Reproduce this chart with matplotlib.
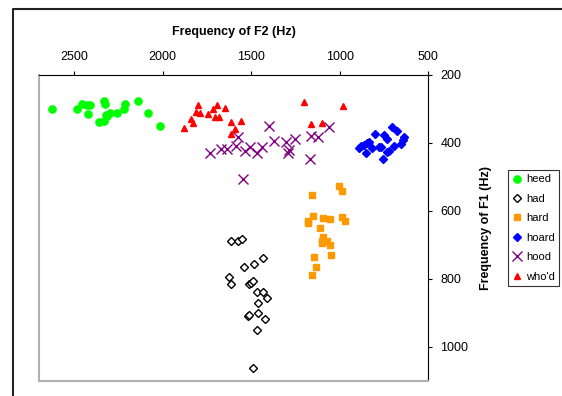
import matplotlib
matplotlib.use("Agg")
import matplotlib.pyplot as plt
from matplotlib.lines import Line2D

plt.rcParams["font.family"] = ["Liberation Sans", "DejaVu Sans"]

# vowel formants (Hz)
heed_f2 = [2625, 2486, 2455, 2429, 2414, 2422, 2335, 2324, 2363, 2335, 2320, 2301,
           2313, 2258, 2220, 2213, 2141, 2081, 2015]
heed_f1 = [300, 300, 285, 287, 289, 314, 277, 284, 338, 334, 317, 312,
           320, 311, 299, 286, 277, 312, 350]

had_f2 = [1616, 1572, 1551, 1433, 1538, 1486, 1625, 1616, 1514, 1501, 1489, 1467,
          1435, 1412, 1463, 1518, 1514, 1463, 1424, 1469, 1492]
had_f1 = [689, 687, 682, 737, 764, 757, 793, 814, 815, 811, 806, 837,
          838, 856, 870, 908, 906, 900, 918, 950, 1063]

hard_f2 = [1003, 986, 1156, 1153, 1177, 1179, 1096, 1053, 986, 968, 1113, 1096,
           1100, 1100, 1071, 1054, 1047, 1145, 1133, 1156]
hard_f1 = [526, 540, 552, 615, 628, 634, 622, 625, 617, 628, 649, 677,
           687, 695, 687, 700, 728, 736, 765, 788]

hoard_f2 = [704, 678, 798, 747, 732, 634, 644, 653, 695, 719, 734, 753,
            776, 768, 832, 845, 860, 879, 893, 819, 851]
hoard_f1 = [354, 365, 373, 376, 387, 381, 391, 403, 408, 425, 426, 447,
            413, 411, 396, 401, 406, 409, 414, 414, 430]

hood_f2 = [1733, 1670, 1637, 1585, 1576, 1533, 1505, 1468, 1438, 1400, 1372, 1304,
           1293, 1284, 1250, 1167, 1160, 1124, 1058, 1544]
hood_f1 = [430, 418, 418, 409, 382, 423, 411, 428, 413, 350, 394, 397,
           428, 422, 387, 448, 379, 381, 352, 506]

whod_f2 = [1798, 1811, 1787, 1840, 1831, 1881, 1742, 1718, 1693, 1706, 1680, 1646,
           1616, 1555, 1589, 1616, 1201, 979, 1164, 1102]
whod_f1 = [287, 309, 313, 328, 342, 355, 316, 301, 288, 324, 324, 298,
           338, 334, 359, 374, 280, 291, 345, 340]

W, H = 562, 396
fig = plt.figure(figsize=(W / 100, H / 100), dpi=100)
ax = fig.add_axes([39 / W, 1 - 381 / H, (428 - 39) / W, (381 - 75) / H])

ax.plot(heed_f2, heed_f1, "o", color="#00ff00", ms=5.2, mec="#00ff00", label="heed")
ax.plot(had_f2, had_f1, "D", mfc="white", mec="black", mew=1, ms=4, label="had")
ax.plot(hard_f2, hard_f1, "s", color="#ff9900", ms=4.5, label="hard")
ax.plot(hoard_f2, hoard_f1, "D", color="#0000ff", ms=4, label="hoard")
ax.plot(hood_f2, hood_f1, "x", color="#800080", ms=6.5, mew=1, label="hood")
ax.plot(whod_f2, whod_f1, "^", color="#ff0000", ms=5, label="who'd")

ax.set_xlim(2700, 500)
ax.set_ylim(1100, 200)
ax.set_xticks([2500, 2000, 1500, 1000, 500])
ax.set_yticks([200, 400, 600, 800, 1000])

ax.xaxis.tick_top()
ax.xaxis.set_label_position("top")
ax.yaxis.tick_right()
ax.yaxis.set_label_position("right")
ax.tick_params(direction="out", length=3, width=0.8, labelsize=9, colors="black")
ax.tick_params(axis="x", pad=6)
ax.tick_params(axis="y", pad=6)

ax.set_xlabel("Frequency of F2 (Hz)", fontsize=9, fontweight="bold", labelpad=11)
ax.set_ylabel("Frequency of F1 (Hz)", fontsize=9, fontweight="bold", labelpad=8)

for side in ("top", "right"):
    ax.spines[side].set_color("black")
    ax.spines[side].set_linewidth(0.8)
for side in ("left", "bottom"):
    ax.spines[side].set_color("#b0b0b0")
    ax.spines[side].set_linewidth(1.5)

leg = fig.legend(loc="upper left", bbox_to_anchor=(508 / W, 1 - 170 / H),
                 fontsize=8, frameon=True, fancybox=False, edgecolor="black",
                 handlelength=0.8, handletextpad=0.4, borderpad=0.4,
                 labelspacing=0.85, borderaxespad=0)
leg.get_frame().set_linewidth(0.8)

# outer frame lines, cut off by the crop
fig.add_artist(Line2D([13 / W, 13 / W, 1], [0, 1 - 9 / H, 1 - 9 / H],
                      transform=fig.transFigure, color="#222222", lw=1.5))

fig.savefig("out.png", dpi=100)
